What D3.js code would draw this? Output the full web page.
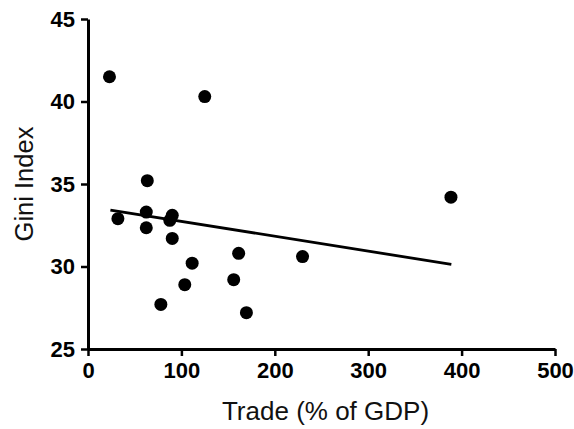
<!DOCTYPE html>
<html>
<head>
<meta charset="utf-8">
<script src="https://cdn.jsdelivr.net/npm/d3@7"></script>
<style>
  body { margin: 0; background: #fff; }
  svg { display: block; }
</style>
</head>
<body>
<div id="chart"></div>
<script>
// Trade vs Gini
var trade = [23, 125, 32, 63.5, 62.4, 62.4, 90.2, 87.6, 90.2, 111.5, 103.6, 78, 161.3, 156, 169.6, 229.7, 388.6];
var gini  = [41.5, 40.3, 32.9, 35.2, 33.3, 32.35, 33.1, 32.8, 31.7, 30.2, 28.9, 27.7, 30.8, 29.2, 27.2, 30.6, 34.2];

// fitted line endpoints (as drawn in the original)
var fitX = [24, 389];
var fitY = [33.42, 30.13];

var xTicks = [0, 100, 200, 300, 400, 500];
var yTicks = [25, 30, 35, 40, 45];

var width = 574, height = 429;
var margin = {top: 19, right: 19, bottom: 80, left: 88};
var w = width - margin.left - margin.right;
var h = height - margin.top - margin.bottom;

var svg = d3.select("#chart").append("svg")
    .attr("width", width)
    .attr("height", height);

var g = svg.append("g")
    .attr("transform", "translate(" + margin.left + "," + margin.top + ")");

var x = d3.scaleLinear().domain([0, 500]).range([0, w]);
var y = d3.scaleLinear().domain([25, 45]).range([h, 0]);

//axes
var xAxis = g.append("g")
    .attr("transform", "translate(0," + h + ")")
    .call(d3.axisBottom(x).tickValues(xTicks).tickSize(7).tickPadding(6).tickSizeOuter(0));
var yAxis = g.append("g")
    .call(d3.axisLeft(y).tickValues(yTicks).tickSize(7).tickPadding(6).tickSizeOuter(0));

[xAxis, yAxis].forEach(function(a) {
    a.select(".domain").attr("stroke", "#000").attr("stroke-width", 3);
    a.selectAll(".tick line").attr("stroke", "#000").attr("stroke-width", 2.5);
    a.selectAll(".tick text")
        .attr("fill", "#000")
        .attr("font-family", "Liberation Sans, Arial, sans-serif")
        .attr("font-weight", "bold")
        .attr("font-size", "22px");
});

// fit line
var line = d3.line()
    .x(function(d) { return x(d[0]); })
    .y(function(d) { return y(d[1]); });
g.append("path")
    .datum(d3.zip(fitX, fitY))
    .attr("d", line)
    .attr("fill", "none")
    .attr("stroke", "#000")
    .attr("stroke-width", 2.8);

// points
g.selectAll("circle.pt")
    .data(d3.zip(trade, gini))
    .enter().append("circle")
    .attr("class", "pt")
    .attr("cx", function(d) { return x(d[0]); })
    .attr("cy", function(d) { return y(d[1]); })
    .attr("r", 6.5)
    .attr("fill", "#000");

// axis titles
g.append("text")
    .attr("x", w / 2 + 4)
    .attr("y", h + 71)
    .attr("text-anchor", "middle")
    .attr("font-family", "Liberation Sans, Arial, sans-serif")
    .attr("font-size", "26px")
    .attr("fill", "#111")
    .text("Trade (% of GDP)");

g.append("text")
    .attr("transform", "translate(" + (33 - margin.left) + "," + (h / 2) + ") rotate(-90)")
    .attr("text-anchor", "middle")
    .attr("font-family", "Liberation Sans, Arial, sans-serif")
    .attr("font-size", "25.5px")
    .attr("fill", "#111")
    .text("Gini Index");
</script>
</body>
</html>
